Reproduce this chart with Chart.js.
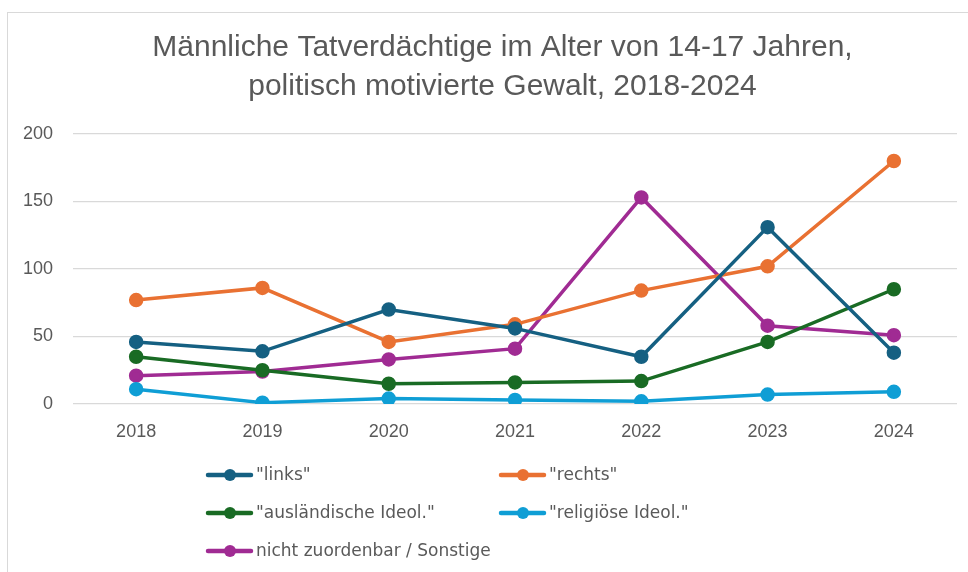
<!DOCTYPE html>
<html>
<head>
<meta charset="utf-8">
<script src="https://cdn.jsdelivr.net/npm/chart.js@4"></script>
<style>
    html, body { margin: 0; padding: 0; background: #ffffff; }
    #wrap { position: relative; width: 968px; height: 572px; overflow: hidden; }
    #frame {
        position: absolute; left: 7px; top: 12px; width: 1000px; height: 600px;
        border-top: 1.5px solid #d9d9d9; border-left: 1.5px solid #d9d9d9;
    }
    canvas { position: absolute; left: 0; top: 0; }
</style>
</head>
<body>
<div id="wrap">
    <div id="frame"></div>
    <canvas id="chart" width="968" height="572"></canvas>
</div>
<script>
// data
const years = ['2018', '2019', '2020', '2021', '2022', '2023', '2024'];
const links = [46, 39, 70, 56, 35, 131, 38];
const rechts = [77, 86, 46, 59, 84, 102, 180];
const auslaendisch = [35, 25, 15, 16, 17, 46, 85];
const religioes = [11, 1, 4, 3, 2, 7, 9];
const sonstige = [21, 24, 33, 41, 153, 58, 51];

const titleLines = ['Männliche Tatverdächtige im Alter von 14-17 Jahren,', 'politisch motivierte Gewalt, 2018-2024'];

const textColor = '#595959';
const fontFamily = '"Liberation Sans", Arial, sans-serif';
const legendFont = '"DejaVu Sans", Verdana, sans-serif';

function series(label, data, color) {
    return {
        label: label,
        data: data,
        borderColor: color,
        backgroundColor: color,
        pointBackgroundColor: color,
        pointBorderColor: color,
        borderWidth: 3.5,
        pointRadius: 5.5,
        pointHoverRadius: 6,
        tension: 0,
        fill: false
    };
}

// two-column legend like the Excel one
const gridLegend = {
    id: 'gridLegend',
    afterLayout(chart) {
        // nudge the title a bit right, Excel centres it on the frame
        if (chart.titleBlock) {
            chart.titleBlock.left += 17;
            chart.titleBlock.right += 17;
        }
    },
    afterDraw(chart) {
        const ctx = chart.ctx;
        const colX = [206, 499];
        const rowY = [475, 513, 551];
        ctx.save();
        ctx.font = '17px ' + legendFont;
        ctx.textBaseline = 'middle';
        chart.data.datasets.forEach((ds, i) => {
            const x = colX[i % 2];
            const y = rowY[Math.floor(i / 2)];
            ctx.strokeStyle = ds.borderColor;
            ctx.lineWidth = 4.5;
            ctx.lineCap = 'round';
            ctx.beginPath();
            ctx.moveTo(x + 2, y);
            ctx.lineTo(x + 45, y);
            ctx.stroke();
            ctx.fillStyle = ds.borderColor;
            ctx.beginPath();
            ctx.arc(x + 24, y, 6, 0, Math.PI * 2);
            ctx.fill();
            ctx.fillStyle = textColor;
            ctx.fillText(ds.label, x + 50, y + 1);
        });
        ctx.restore();
    }
};

const ctx = document.getElementById('chart').getContext('2d');

new Chart(ctx, {
    type: 'line',
    data: {
        labels: years,
        datasets: [
            series('"links"', links, '#156082'),
            series('"rechts"', rechts, '#E97132'),
            series('"ausländische Ideol."', auslaendisch, '#196B24'),
            series('"religiöse Ideol."', religioes, '#0F9ED5'),
            series('nicht zuordenbar / Sonstige', sonstige, '#A02B93')
        ]
    },
    options: {
        responsive: false,
        animation: false,
        layout: { padding: { left: 14, right: 11, top: 0, bottom: 0 } },
        scales: {
            x: {
                offset: true,
                grid: { display: false, drawTicks: false },
                border: { display: false },
                ticks: { color: textColor, font: { family: fontFamily, size: 18 }, padding: 17 },
                afterFit: (scale) => { scale.height = 168; }
            },
            y: {
                min: 0,
                max: 200,
                grid: { color: '#d9d9d9', lineWidth: 1.3, drawTicks: false },
                border: { display: false },
                ticks: { stepSize: 50, color: textColor, font: { family: fontFamily, size: 18 }, padding: 20 },
                afterFit: (scale) => { scale.width = 59; }
            }
        },
        plugins: {
            legend: { display: false },
            tooltip: { enabled: false },
            title: {
                display: true,
                text: titleLines,
                color: textColor,
                font: { family: fontFamily, size: 30, weight: 'normal', lineHeight: 1.3 },
                padding: { top: 28, bottom: 28 }
            }
        }
    },
    plugins: [gridLegend]
});
</script>
</body>
</html>
